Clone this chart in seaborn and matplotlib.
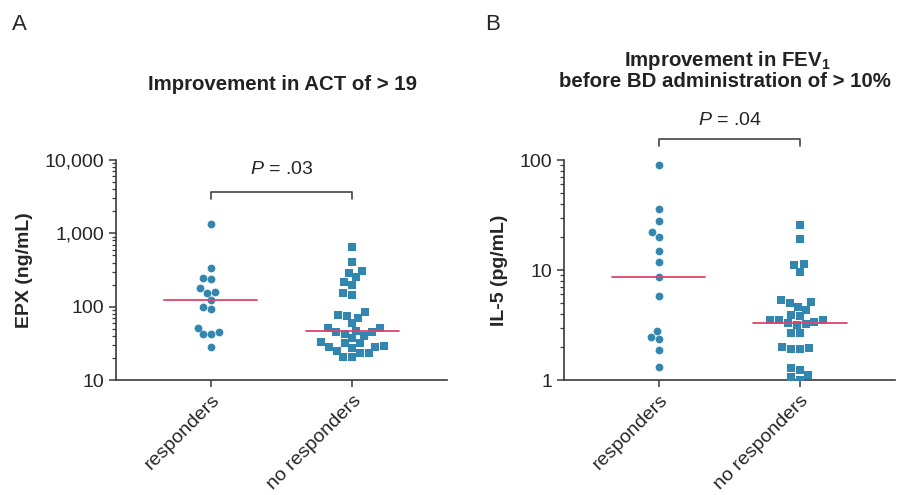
import matplotlib
matplotlib.use("Agg")
import matplotlib.pyplot as plt
import matplotlib.ticker as mticker
import seaborn as sns

groups = ["responders", "no responders"]

# Panel A: EPX (ng/mL)
epx_responders = [1330, 333, 249, 236, 178, 157, 152, 123, 100, 93, 52, 45.5, 43, 42, 28]
epx_no_responders = [658, 411, 310, 291, 251, 219, 197, 152, 144, 85.5, 77, 75, 70.8,
                     59, 52, 50.7, 47, 45.5, 45.5, 43, 40, 37, 32.6, 31.6, 31.6, 29,
                     28.5, 28.5, 27, 25, 23.6, 23.6, 20.4, 20.8]
epx_medians = [123, 46.5]

# Panel B: IL-5 (pg/mL)
il5_responders = [90.7, 36, 27.7, 22, 20, 15, 11.8, 8.6, 5.8, 2.79, 2.46, 2.38, 1.89, 1.31]
il5_no_responders = [25.5, 19, 11.1, 11.4, 9.65, 5.34, 5.08, 5.0, 4.64, 4.33, 3.9, 3.8,
                     3.51, 3.51, 3.5, 3.3, 3.2, 3.4, 3.14, 2.66, 2.7, 1.98, 1.93, 1.93,
                     1.94, 1.28, 1.24, 1.11, 1.01, 1.06]
il5_medians = [8.7, 3.3]

sns.set_style("ticks")
plt.rcParams["font.family"] = ["Liberation Sans", "DejaVu Sans"]
plt.rcParams["mathtext.fontset"] = "custom"
plt.rcParams["mathtext.rm"] = "Liberation Sans"
plt.rcParams["mathtext.it"] = "Liberation Sans:italic"
plt.rcParams["mathtext.bf"] = "Liberation Sans:bold"

dot_color = "#3088b2"
median_color = "#e0446c"
axis_color = "#3a3a3a"


def draw_panel(ax, resp, noresp, medians, ylim, ylabel, p_text, bracket_y, text_y):
    ax.set_yscale("log")
    sns.swarmplot(x=[groups[0]] * len(resp), y=resp, order=groups, ax=ax,
                  marker="o", color=dot_color, size=5.6, linewidth=0)
    sns.swarmplot(x=[groups[1]] * len(noresp), y=noresp, order=groups, ax=ax,
                  marker="s", color=dot_color, size=6.2, linewidth=0)
    for i, m in enumerate(medians):
        ax.plot([i - 0.33, i + 0.33], [m, m], color=median_color, lw=1.3, zorder=5)

    ax.set_xlim(-0.67, 1.67)
    ax.set_ylim(*ylim)
    ax.yaxis.set_major_locator(mticker.LogLocator(base=10))
    ax.yaxis.set_minor_locator(mticker.LogLocator(base=10, subs=range(2, 10)))
    ax.yaxis.set_major_formatter(mticker.FuncFormatter(lambda v, p: f"{v:,.0f}"))
    ax.yaxis.set_minor_formatter(mticker.NullFormatter())
    ax.set_ylabel(ylabel, fontsize=14, fontweight="bold", labelpad=8)
    ax.set_xlabel("")
    ax.set_xticks(range(len(groups)))
    ax.set_xticklabels(groups, rotation=45, ha="right", rotation_mode="anchor", fontsize=14)
    ax.tick_params(axis="y", which="major", length=5, width=1.1, color=axis_color, labelsize=14)
    ax.tick_params(axis="y", which="minor", length=3, width=0.9, color=axis_color)
    ax.tick_params(axis="x", length=5, width=1.1, color=axis_color)
    sns.despine(ax=ax)
    for s in ["left", "bottom"]:
        ax.spines[s].set_color(axis_color)
        ax.spines[s].set_linewidth(1.2)

    tr = ax.get_xaxis_transform()
    ax.plot([0, 0, 1, 1], [bracket_y - 0.03, bracket_y, bracket_y, bracket_y - 0.03],
            transform=tr, clip_on=False, color="#444444", lw=1.2)
    ax.text(0.5, text_y, p_text, transform=tr, ha="center", va="center", fontsize=14)


fig = plt.figure(figsize=(8.98, 4.95), dpi=100)
ax_a = fig.add_axes([0.1292, 0.2323, 0.3686, 0.4444])
ax_b = fig.add_axes([0.628, 0.2323, 0.3686, 0.4444])

draw_panel(ax_a, epx_responders, epx_no_responders, epx_medians, (10, 10000),
           "EPX (ng/mL)", "$P$ = .03", 0.855, 0.955)
draw_panel(ax_b, il5_responders, il5_no_responders, il5_medians, (1, 100),
           "IL-5 (pg/mL)", "$P$ = .04", 1.095, 1.18)

fig.text(12 / 898, 1 - 25 / 495, "A", fontsize=16, va="center", ha="left")
fig.text(485 / 898, 1 - 25 / 495, "B", fontsize=16, va="center", ha="left")
fig.text(282 / 898, 1 - 90 / 495, "Improvement in ACT of > 19",
         fontsize=14.7, fontweight="bold", ha="center", va="baseline", color="#222222")
fig.text(727 / 898, 1 - 66 / 495, r"Improvement in FEV$_\mathbf{1}$",
         fontsize=14.7, fontweight="bold", ha="center", va="baseline", color="#222222")
fig.text(725 / 898, 1 - 87 / 495, "before BD administration of > 10%",
         fontsize=14.7, fontweight="bold", ha="center", va="baseline", color="#222222")

fig.savefig("out.png", dpi=100)
